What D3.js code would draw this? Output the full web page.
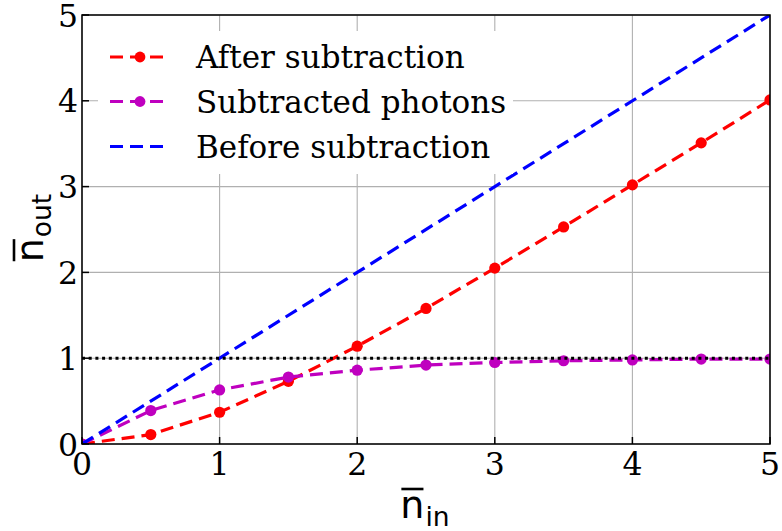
<!DOCTYPE html>
<html><head><meta charset="utf-8">
<script src="https://cdn.jsdelivr.net/npm/d3@7"></script>
<style>html,body{margin:0;padding:0;background:#fff;}</style>
</head><body>
<svg id="chart" width="782" height="531"></svg>
<script>
const xs = [0, 0.5, 1, 1.5, 2, 2.5, 3, 3.5, 4, 4.5, 5];
const afterSub = [0, 0.11, 0.37, 0.73, 1.14, 1.58, 2.05, 2.53, 3.02, 3.51, 4.01];
const subtracted = [0, 0.39, 0.63, 0.78, 0.86, 0.92, 0.95, 0.97, 0.98, 0.99, 0.99];
const beforeX = [0, 5];
const beforeSub = [0, 5];
const xTicks = [0, 1, 2, 3, 4, 5];
const yTicks = [0, 1, 2, 3, 4, 5];
const refLevel = 1;
const legendLabels = ["After subtraction", "Subtracted photons", "Before subtraction"];

const svg = d3.select("#chart");
const L = 82, R = 770, T = 15, B = 444;
const x = d3.scaleLinear().domain([0, 5]).range([L, R]);
const y = d3.scaleLinear().domain([0, 5]).range([B, T]);

svg.append("defs").append("clipPath").attr("id", "clip")
  .append("rect").attr("x", L).attr("y", T).attr("width", R - L).attr("height", B - T);

// grid
const grid = svg.append("g");
grid.selectAll(".gx").data(xTicks).join("line")
  .attr("x1", d => x(d)).attr("x2", d => x(d)).attr("y1", T).attr("y2", B)
  .attr("stroke", "#b0b0b0").attr("stroke-width", 1.1);
grid.selectAll(".gy").data(yTicks).join("line")
  .attr("x1", L).attr("x2", R).attr("y1", d => y(d)).attr("y2", d => y(d))
  .attr("stroke", "#b0b0b0").attr("stroke-width", 1.1);

const plot = svg.append("g").attr("clip-path", "url(#clip)");
const line = d3.line().x(d => x(d[0])).y(d => y(d[1]));
const dash = "13,7";

function series(vals, xv, color, markers) {
  const pts = xv.map((v, i) => [v, vals[i]]);
  plot.append("path").attr("d", line(pts)).attr("fill", "none")
    .attr("stroke", color).attr("stroke-width", 3.2).attr("stroke-dasharray", dash);
  if (markers) {
    plot.selectAll(null).data(pts).join("circle")
      .attr("cx", d => x(d[0])).attr("cy", d => y(d[1])).attr("r", 5.6).attr("fill", color);
  }
}
series(afterSub, xs, "#ff0000", true);
series(subtracted, xs, "#bf00bf", true);
series(beforeSub, beforeX, "#0000ff", false);

plot.append("line").attr("x1", L).attr("x2", R).attr("y1", y(refLevel)).attr("y2", y(refLevel))
  .attr("stroke", "#000").attr("stroke-width", 3).attr("stroke-dasharray", "3,3.7");

// spines
svg.append("rect").attr("x", L).attr("y", T).attr("width", R - L).attr("height", B - T)
  .attr("fill", "none").attr("stroke", "#000").attr("stroke-width", 1.5);

// ticks (inward)
svg.selectAll(".tx").data(xTicks).join("line")
  .attr("x1", d => x(d)).attr("x2", d => x(d)).attr("y1", B).attr("y2", B - 7)
  .attr("stroke", "#000").attr("stroke-width", 1.5);
svg.selectAll(".ty").data(yTicks).join("line")
  .attr("x1", L).attr("x2", L + 7).attr("y1", d => y(d)).attr("y2", d => y(d))
  .attr("stroke", "#000").attr("stroke-width", 1.5);

const serif = "'DejaVu Serif', serif";
svg.selectAll(".lx").data(xTicks).join("text")
  .attr("x", d => x(d)).attr("y", 474.5).attr("text-anchor", "middle")
  .attr("font-family", serif).attr("font-size", 31.5).text(d => d);
svg.selectAll(".ly").data(yTicks).join("text")
  .attr("x", 78).attr("y", d => y(d) + 11.5).attr("text-anchor", "end")
  .attr("font-family", serif).attr("font-size", 31.5).text(d => d);

// legend
const lg = svg.append("g");
lg.append("rect").attr("x", 98).attr("y", 31).attr("width", 415).attr("height", 143).attr("fill", "#fff");
const colors = ["#ff0000", "#bf00bf", "#0000ff"];
const rowsY = [57, 101.5, 146.5];
legendLabels.forEach((lab, i) => {
  lg.append("line").attr("x1", 110).attr("x2", 170).attr("y1", rowsY[i]).attr("y2", rowsY[i])
    .attr("stroke", colors[i]).attr("stroke-width", 3.2).attr("stroke-dasharray", dash);
  if (i < 2) lg.append("circle").attr("cx", 140).attr("cy", rowsY[i]).attr("r", 5.4).attr("fill", colors[i]);
  lg.append("text").attr("x", 196).attr("y", rowsY[i] + 11).attr("font-family", serif)
    .attr("font-size", 31).text(lab);
});

// axis labels with overline
const sans = "'DejaVu Sans', sans-serif";
function mathLabel(g, sub) {
  const inner = g.append("g");
  const n = inner.append("text").attr("x", 0).attr("y", 0).attr("font-family", sans)
    .attr("font-size", 38).text("n");
  const nb = n.node().getBBox();
  const nw = n.node().getComputedTextLength();
  inner.append("line").attr("x1", nb.x + 1).attr("x2", nb.x + nw - 1).attr("y1", -29).attr("y2", -29)
    .attr("stroke", "#000").attr("stroke-width", 2.6);
  const s = inner.append("text").attr("x", nw + 1).attr("y", 8).attr("font-family", sans)
    .attr("font-size", 26.5).text(sub);
  const total = nw + 1 + s.node().getComputedTextLength();
  inner.attr("transform", `translate(${-total / 2},0)`);
}
mathLabel(svg.append("g").attr("transform", "translate(425,518)"), "in");
mathLabel(svg.append("g").attr("transform", "translate(43,228) rotate(-90)"), "out");
</script>
</body></html>
